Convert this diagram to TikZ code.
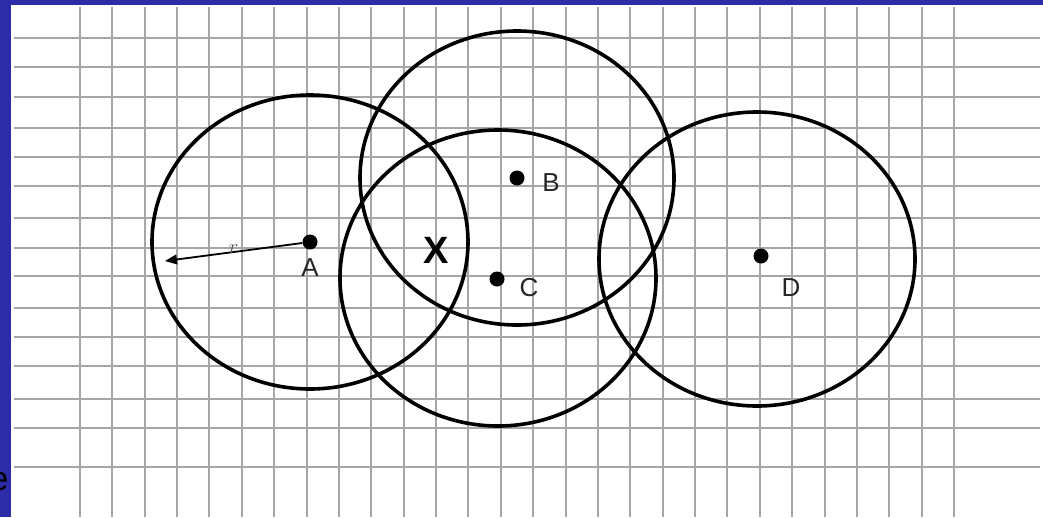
\documentclass[tikz,border=0pt]{standalone}
\usepackage{fontspec}
\setmainfont{Liberation Sans}
\usepackage{tikz}
\usetikzlibrary{arrows, positioning}
\definecolor{slideblue}{RGB}{44,44,168}

\begin{document}
\begin{tikzpicture}[x=1pt, y=-1pt,
    gridline/.style={draw=gray!70, line width=2pt},
    ring/.style={line width=3.6pt},
    site/.style={circle, fill=black, inner sep=0pt, minimum size=15pt},
    lbl/.style={text=black!85, font=\fontsize{26}{28}\selectfont}]
  \useasboundingbox (0,0) rectangle (1043,517);
  \fill[slideblue] (0,0) rectangle (1043,517);
  \fill[white] (11,5) rectangle (1043,517);

  % grid
  \foreach \i in {0,...,27}
    \draw[gridline] ({80+\i*32.37},7) -- ({80+\i*32.37},517);
  \foreach \y in {38,67,97,128,157,186,218,248,276,308,337,366,399,428,467}
    \draw[gridline] (14,\y) -- (1040,\y);

  % sites
  \node (a) [site] at (310,242) {};
  \node (b) [site] at (517,178) {};
  \node (c) [site] at (497,279) {};
  \node (d) [site] at (761,256) {};

  \node (la) [lbl] at (310,268) {A};
  \node (lb) [lbl] at (551,183) {B};
  \node (lc) [lbl] at (529,288) {C};
  \node (ld) [lbl] at (791,288) {D};

  \draw[ring] (a) ellipse [x radius=158pt, y radius=147pt];
  \draw[ring] (b) ellipse [x radius=157pt, y radius=147pt];
  \draw[ring] (c.center) ++(1,-1) ellipse [x radius=158pt, y radius=148pt];
  \draw[ring] (d.center) ++(-4,3) ellipse [x radius=158pt, y radius=147pt];

  % radius
  \coordinate (tip) at (165,261);
  \draw[-triangle 45, line width=1.8pt] (a) -- (tip)
    node[midway, above=-6pt, text=black!65, font=\fontsize{20}{22}\selectfont] {$r$};

  \node (x) [font=\bfseries\fontsize{38}{40}\selectfont] at (436,250) {X};
  \node (e) [anchor=east, font=\fontsize{34}{36}\selectfont] at (12,482) {e};
\end{tikzpicture}
\end{document}
